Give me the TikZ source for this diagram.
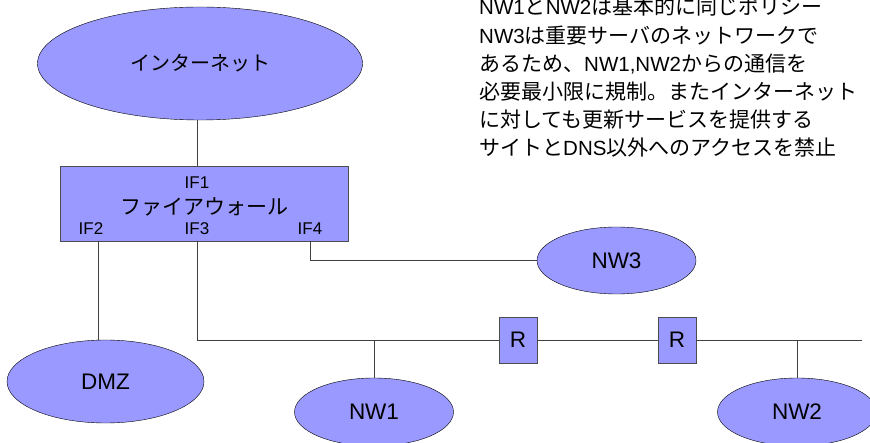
\documentclass[tikz,border=0pt]{standalone}
\usepackage{fontspec}
\setmainfont{Liberation Sans}
\newfontfamily\jp{Noto Sans CJK JP}
\usetikzlibrary{shapes.geometric}
\definecolor{netblue}{RGB}{153,153,255}
\newcommand\jtext[1]{{\jp\fontsize{21}{24}\selectfont #1}}
\tikzset{
	net/.style={ellipse, draw=black, fill=netblue, inner sep=0pt, font=\fontsize{22.5}{26}\selectfont},
	fwbox/.style={draw=black!70, fill=netblue, inner sep=0pt},
	router/.style={draw=black!70, fill=netblue, minimum width=38pt, minimum height=46pt, inner sep=0pt, font=\fontsize{22.5}{26}\selectfont},
	iflabel/.style={inner sep=0pt, anchor=base, font=\fontsize{17}{20}\selectfont},
	link/.style={draw=black!75, line width=0.8pt},
	note/.style={inner sep=0pt, anchor=base west, font=\fontsize{20.5}{24}\selectfont}
}
\begin{document}
\begin{tikzpicture}[x=1pt, y=-1pt]
		\useasboundingbox (0,0) rectangle (870,443);
		\node[net, minimum width=325pt, minimum height=113pt] (inet) at (200,63.5) {\jp\fontsize{20}{24}\selectfont インターネット};
		\node[fwbox, minimum width=288pt, minimum height=75pt] (fw) at (204,203.5) {};
		\node[font=\jp\fontsize{21}{24}\selectfont, inner sep=0pt] (fwname) at (204,207) {ファイアウォール};
		\node[iflabel] (if1) at (197,189) {IF1};
		\node[iflabel] (if2) at (91,234.5) {IF2};
		\node[iflabel] (if3) at (197,234.5) {IF3};
		\node[iflabel] (if4) at (310,234.5) {IF4};
		\coordinate (port2) at (98,241);
		\coordinate (port3) at (197,241);
		\coordinate (port4) at (310,241);
		
		\node[net, minimum width=197pt, minimum height=83pt] (dmz) at (105.5,381.5) {DMZ};
		\node[net, minimum width=159pt, minimum height=67pt] (nw3) at (616.5,260.5) {NW3};
		\node[net, minimum width=159pt, minimum height=68pt] (nw1) at (374,412) {NW1};
		\node[net, minimum width=159pt, minimum height=68pt] (nw2) at (797,412) {NW2};
		\node[router] (r1) at (518,340) {R};
		\node[router] (r2) at (677,340) {R};
		\coordinate (bbend) at (862,340);
		
		\draw[link] (inet.south -| if1) -- (fw.north -| if1);
		\draw[link] (port2) -- (dmz.north -| port2);
		\draw[link] (port4) |- (nw3);
		\draw[link] (port3) |- (r1);
		\draw[link] (r1) -- (r2);
		\draw[link] (r2) -- (bbend);
		\draw[link] (nw1) -- (nw1 |- r1);
		\draw[link] (nw2) -- (nw2 |- r1);
		
		\node[note] (note1) at (479,15) {NW1\jtext{と}NW2\jtext{は基本的に同じポリシー}};
		\node[note] (note2) at (479,43.2) {NW3\jtext{は重要サーバのネットワークで}};
		\node[note] (note3) at (479,71.4) {\jtext{あるため、}NW1,NW2\jtext{からの通信を}};
		\node[note] (note4) at (479,99.6) {\jtext{必要最小限に規制。またインターネット}};
		\node[note] (note5) at (479,127.8) {\jtext{に対しても更新サービスを提供する}};
		\node[note] (note6) at (479,156) {\jtext{サイトと}DNS\jtext{以外へのアクセスを禁止}};
	\end{tikzpicture}
\end{document}
